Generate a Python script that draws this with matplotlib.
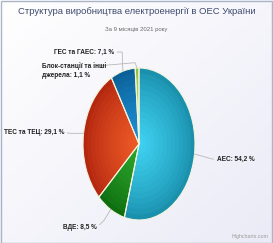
import matplotlib
matplotlib.use("Agg")
import matplotlib.pyplot as plt
import numpy as np
from matplotlib.colors import to_rgb

plt.rcParams["font.family"] = ["Liberation Sans", "DejaVu Sans"]

TITLE = "Структура виробництва електроенергії в ОЕС України"
SUBTITLE = "За 9 місяців 2021 року"
LABELS = ["АЕС", "ВДЕ", "ТЕС та ТЕЦ", "ГЕС та ГАЕС", "Блок-станції та інші\nджерела"]
VALUES = [54.2, 8.5, 29.1, 7.1, 1.1]
INNER = ["#3fd0f0", "#2ca62c", "#ee5a26", "#1c90d4", "#c8ec70"]
OUTER = ["#1a90ad", "#0f6f10", "#b42810", "#0c6098", "#90c040"]

W, H = 273, 243
fig = plt.figure(figsize=(W / 100, H / 100), dpi=100)

# background gradient + frame
bg = fig.add_axes([0, 0, 1, 1])
gx, gy = np.meshgrid(np.linspace(0, 1, 64), np.linspace(0, 1, 64))
t = (gx + gy) / 2
c0 = np.array(to_rgb("#ffffff"))
c1 = np.array(to_rgb("#ebebf7"))
img = c0 + (c1 - c0) * t[..., None]
bg.imshow(img, extent=[0, 1, 0, 1], aspect="auto", origin="upper")
bg.set_xlim(0, 1)
bg.set_ylim(0, 1)
bg.axis("off")
bg.add_patch(plt.Rectangle((0.002, 0.002), 0.996, 0.994, fill=False,
                           edgecolor="#aab4c8", linewidth=1.0))

# elliptical pie, radial shading from layered pies
cx, cy, rx, ry = 139, 144, 56, 76
ax = fig.add_axes([(cx - rx) / W, 1 - (cy + ry) / H, 2 * rx / W, 2 * ry / H])

n_layers = 14
for k in range(n_layers):
    r = 1 - k / n_layers
    f = (k / (n_layers - 1)) ** 0.8
    cols = [tuple(np.array(to_rgb(o)) * (1 - f) + np.array(to_rgb(i)) * f)
            for i, o in zip(INNER, OUTER)]
    ax.pie(VALUES, colors=cols, radius=r, startangle=90, counterclock=False,
           wedgeprops={"linewidth": 0}, frame=False)
ax.pie(VALUES, colors=["none"] * len(VALUES), radius=1, startangle=90,
       counterclock=False, wedgeprops={"linewidth": 0.8, "edgecolor": "#f4f4dc"},
       frame=False)
ax.set_aspect("auto")
ax.set_xlim(-1, 1)
ax.set_ylim(-1, 1)
ax.axis("off")

# labels with leader lines
fracs = np.cumsum([0] + VALUES[:-1]) + np.array(VALUES) / 2
text_pos = [(1.39, -0.2), (-0.75, -1.105), (-1.34, 0.145), (-0.45, 1.21), (-1.73, 0.97)]
line_end = [(1.33, -0.2), (-0.70, -1.06), (-1.28, 0.145), (-0.39, 1.21), (-0.69, 1.03)]
elbow = [(1.27, -0.19), (-0.62, -1.0), (-1.2, 0.14), (-0.30, 1.21), (-0.07, 1.07)]
ha = ["left", "right", "right", "right", "left"]
for lab, v, p, tp, le, el, h in zip(LABELS, VALUES, fracs, text_pos, line_end, elbow, ha):
    ang = np.deg2rad(90 - p / 100 * 360)
    px, py = np.cos(ang), np.sin(ang)
    txt = f"{lab}: {v:.1f} %".replace(".", ",")
    ax.plot([px, el[0], le[0]], [py, el[1], le[1]], color="#b8b8b8",
            linewidth=0.6, clip_on=False)
    ax.text(tp[0], tp[1], txt, ha=h, va="center", fontsize=4.7,
            fontweight="bold", color="#222222", clip_on=False,
            linespacing=1.4)

fig.text(0.5, 1 - 12 / H, TITLE, ha="center", va="center", fontsize=6.8,
         color="#3e4b6e")
fig.text(0.5, 1 - 29 / H, SUBTITLE, ha="center", va="center", fontsize=4.3,
         color="#6a6a6a")
fig.text(1 - 4 / W, 4 / H, "Highcharts.com", ha="right", va="bottom",
         fontsize=3.8, color="#9a9a9a")

fig.savefig("out.png", dpi=100)
